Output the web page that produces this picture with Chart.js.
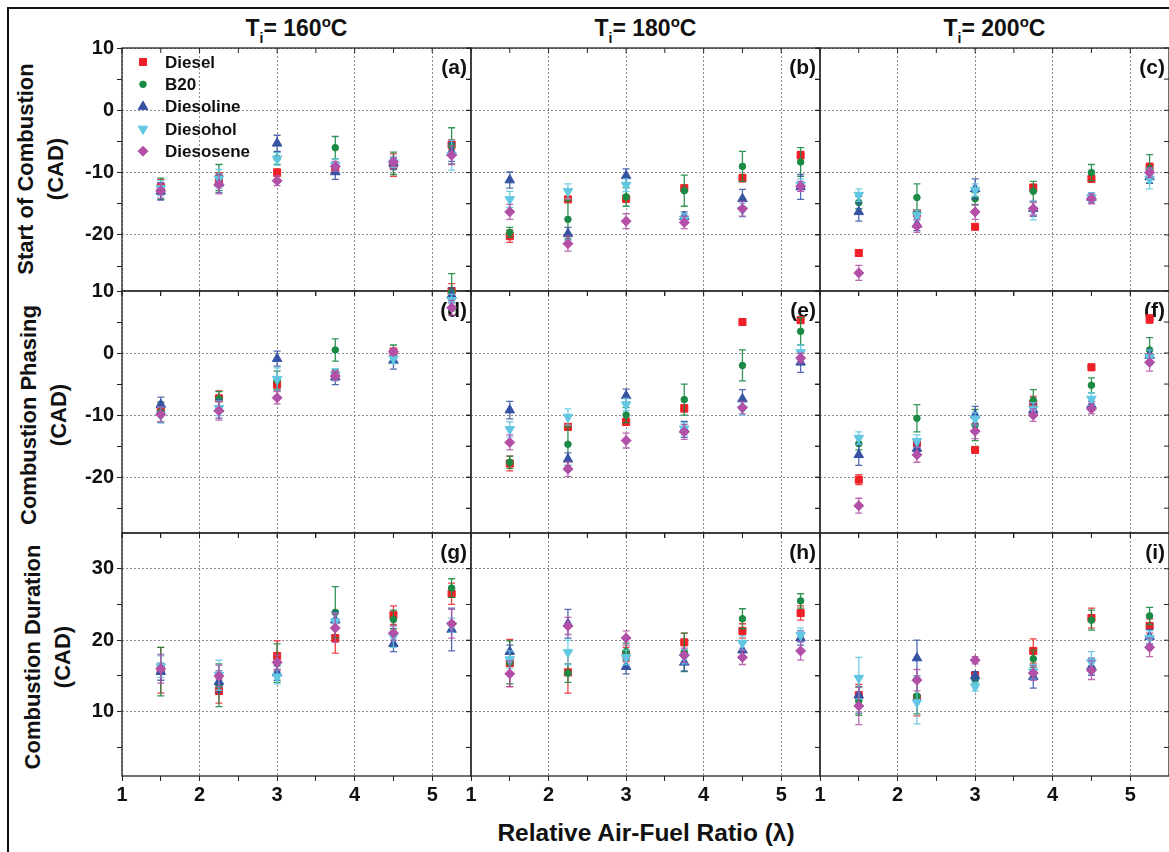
<!DOCTYPE html>
<html>
<head>
<meta charset="utf-8">
<title>Combustion characteristics vs lambda</title>
<script src="https://cdn.jsdelivr.net/npm/chart.js@4.4.1/dist/chart.umd.min.js"></script>
<style>
  body { margin: 0; background: #fff; }
  #figure { position: relative; width: 1169px; height: 852px; overflow: hidden;
            font-family: "Liberation Sans", Arial, sans-serif; font-weight: bold; color: #111; }
  #frame { position: absolute; left: 7px; top: 7px; width: 1180px; height: 880px;
           border: 2px solid #111; box-sizing: border-box; }
  canvas { position: absolute; }
  .coltitle { position: absolute; top: 15px; width: 349px; text-align: center;
              font-size: 23px; line-height: 26px; }
  .coltitle sub { font-size: 14px; line-height: 0; vertical-align: -7px; }
  .coltitle sup { font-size: 15px; line-height: 0; vertical-align: 9px; }
  .ytitle { position: absolute; width: 280px; height: 60px; line-height: 30px;
            text-align: center; font-size: 22px; transform: rotate(-90deg); }
  #xtitle { position: absolute; left: 396px; top: 819px; width: 500px; text-align: center;
            font-size: 24.5px; line-height: 28px; }
</style>
</head>
<body>
<div id="figure">
  <div id="frame"></div>
  <div class="coltitle" style="left:122px">T<sub>i</sub>= 160<sup>o</sup>C</div>
  <div class="coltitle" style="left:471px">T<sub>i</sub>= 180<sup>o</sup>C</div>
  <div class="coltitle" style="left:820px">T<sub>i</sub>= 200<sup>o</sup>C</div>
  <div class="ytitle" style="left:-99px; top:139px">Start of Combustion<br>(CAD)</div>
  <div class="ytitle" style="left:-96px; top:385px">Combustion Phasing<br>(CAD)</div>
  <div class="ytitle" style="left:-92px; top:627px">Combustion Duration<br>(CAD)</div>
  <div id="xtitle">Relative Air-Fuel Ratio (&lambda;)</div>
</div>
<script>
// relative air-fuel ratio at which every fuel was run
const lambda = [1.5, 2.25, 3, 3.75, 4.5, 5.25];
const fuels = ["Diesel", "B20", "Diesoline", "Diesohol", "Diesosene"];
const panelTags = ["(a)", "(b)", "(c)", "(d)", "(e)", "(f)", "(g)", "(h)", "(i)"];

// start of combustion (CAD), rows follow the fuels list
const soc160 = [
  [-12.3, -11.0, -10.0, -9.4, -8.8, -5.5],
  [-12.6, -10.8, -7.7, -6.0, -8.5, -5.7],
  [-13.0, -11.7, -5.3, -9.9, -8.5, -6.7],
  [-12.5, -11.0, -7.8, -8.8, -8.4, -7.2],
  [-12.9, -11.9, -11.3, -9.0, -8.3, -7.2]
];
const soc160Err = [
  [1.2, 1.0, 0.6, 0.8, 1.8, 0.8],
  [1.7, 2.1, 1.0, 1.8, 1.8, 2.9],
  [1.4, 1.5, 1.3, 1.2, 1.0, 1.5],
  [1.2, 1.5, 1.0, 1.0, 0.8, 2.4],
  [1.2, 1.5, 0.8, 0.8, 0.6, 1.5]
];
const soc180 = [
  [-20.2, -14.3, -14.2, -12.5, -10.9, -7.2],
  [-19.6, -17.5, -13.9, -12.9, -9.0, -8.3],
  [-11.2, -19.8, -10.5, -17.1, -14.2, -12.3],
  [-14.3, -13.0, -12.0, -17.4, -16.0, -12.0],
  [-16.3, -21.4, -17.8, -18.0, -15.8, -12.2]
];
const soc180Err = [
  [1.0, 0.4, 0.5, 0.4, 0.6, 0.6],
  [0.8, 3.0, 1.5, 2.5, 2.4, 2.3],
  [1.3, 1.0, 1.1, 0.8, 1.5, 2.0],
  [1.3, 1.2, 1.0, 0.8, 1.1, 1.0],
  [1.2, 1.2, 1.2, 1.0, 1.2, 0.8]
];
const soc200 = [
  [-22.9, -16.5, -18.7, -12.4, -11.0, -9.1],
  [-14.8, -14.0, -14.2, -13.0, -10.0, -9.4],
  [-16.3, -18.3, -12.6, -15.8, -14.0, -10.7],
  [-13.6, -16.8, -12.8, -16.1, -14.0, -11.0],
  [-26.1, -18.6, -16.3, -15.8, -14.2, -10.0]
];
const soc200Err = [
  [0.5, 0.4, 0.3, 0.5, 0.5, 0.6],
  [1.0, 2.2, 1.0, 1.6, 1.3, 2.3],
  [1.5, 1.0, 1.6, 1.2, 0.8, 1.0],
  [1.0, 0.8, 1.0, 1.5, 0.8, 1.6],
  [1.2, 1.0, 1.2, 1.0, 0.8, 0.8]
];

// combustion phasing (CAD)
const phase160 = [
  [-9.0, -7.3, -5.1, -3.5, 0.2, 10.0],
  [-9.5, -7.4, -4.4, 0.5, 0.1, 9.8],
  [-8.3, -9.0, -0.9, -3.9, -1.2, 9.3],
  [-10.0, -8.9, -4.2, -3.5, -0.9, 8.5],
  [-9.9, -9.3, -7.2, -3.7, 0.2, 7.3]
];
const phase160Err = [
  [1.0, 1.2, 1.0, 0.6, 0.6, 1.2],
  [1.6, 1.2, 1.5, 1.8, 1.2, 3.0],
  [1.2, 1.5, 1.2, 1.2, 1.4, 1.2],
  [1.3, 1.2, 1.8, 1.0, 0.8, 1.0],
  [1.2, 1.5, 1.0, 0.6, 0.5, 1.2]
];
const phase180 = [
  [-17.8, -11.9, -11.1, -8.9, 5.0, 5.3],
  [-17.6, -14.7, -10.0, -7.5, -2.0, 3.5],
  [-9.2, -17.1, -6.9, -12.3, -7.4, -1.5],
  [-12.3, -10.3, -8.3, -12.2, -9.0, 0.1],
  [-14.4, -18.7, -14.1, -12.7, -8.8, -0.8]
];
const phase180Err = [
  [1.2, 0.5, 0.5, 0.6, 0.3, 0.5],
  [1.0, 2.8, 1.2, 2.5, 2.5, 2.2],
  [1.4, 1.0, 1.1, 1.3, 1.5, 1.6],
  [1.2, 1.3, 1.0, 1.0, 1.0, 1.2],
  [1.2, 1.2, 1.2, 1.2, 1.0, 0.8]
];
const phase200 = [
  [-20.4, -14.5, -15.6, -8.2, -2.3, 5.5],
  [-14.6, -10.5, -11.6, -7.6, -5.2, 0.5],
  [-16.4, -15.4, -10.0, -9.2, -8.4, -0.4],
  [-13.7, -14.2, -10.6, -9.0, -7.4, -0.7],
  [-24.6, -16.4, -12.6, -10.0, -9.0, -1.5]
];
const phase200Err = [
  [0.8, 0.5, 0.3, 1.2, 0.5, 0.7],
  [1.0, 2.2, 2.5, 1.7, 1.2, 2.0],
  [1.7, 0.8, 1.4, 1.0, 0.6, 1.0],
  [1.0, 1.0, 1.0, 1.0, 1.0, 1.2],
  [1.2, 1.2, 1.2, 1.0, 0.8, 1.4]
];

// combustion duration (CAD)
const dur160 = [
  [15.8, 12.9, 17.8, 20.3, 23.5, 26.5],
  [15.6, 13.7, 16.8, 23.9, 22.9, 27.3],
  [15.6, 14.2, 15.4, 22.8, 19.5, 21.5],
  [16.3, 15.1, 14.9, 22.6, 20.5, 22.1],
  [16.0, 15.0, 16.9, 21.7, 21.0, 22.3]
];
const dur160Err = [
  [3.2, 1.7, 2.1, 2.1, 1.3, 1.5],
  [3.4, 3.0, 2.7, 3.6, 1.3, 1.3],
  [1.2, 1.5, 1.0, 1.2, 1.1, 3.0],
  [1.5, 2.1, 1.0, 1.2, 1.5, 1.0],
  [2.0, 1.5, 1.0, 2.0, 1.0, 2.0]
];
const dur180 = [
  [16.8, 15.5, 18.0, 19.7, 21.3, 23.8],
  [16.9, 15.4, 18.4, 18.3, 23.0, 25.5],
  [18.4, 22.3, 16.3, 16.9, 18.6, 20.3],
  [17.3, 18.3, 17.6, 17.7, 19.6, 20.7],
  [15.3, 22.0, 20.3, 17.9, 17.6, 18.5]
];
const dur180Err = [
  [3.3, 2.9, 1.0, 1.3, 1.0, 1.0],
  [3.0, 1.3, 1.2, 2.7, 1.4, 1.0],
  [0.9, 2.0, 1.0, 1.2, 1.0, 1.0],
  [1.2, 1.7, 1.0, 1.0, 1.0, 1.0],
  [1.8, 1.2, 1.0, 1.0, 1.0, 1.3]
];
const dur200 = [
  [12.3, 11.9, 15.1, 18.5, 23.1, 22.0],
  [11.5, 12.2, 14.5, 17.4, 22.8, 23.4],
  [12.3, 17.5, 15.0, 14.9, 16.3, 20.5],
  [14.7, 11.3, 13.5, 15.6, 16.9, 20.3],
  [10.8, 14.4, 17.2, 15.4, 15.8, 19.0]
];
const dur200Err = [
  [1.5, 2.5, 0.5, 1.7, 1.4, 1.0],
  [2.0, 2.5, 0.6, 1.2, 1.4, 1.2],
  [2.5, 2.5, 0.6, 1.6, 1.2, 1.0],
  [2.9, 3.0, 0.6, 1.0, 1.5, 1.0],
  [2.6, 1.5, 0.5, 1.0, 1.3, 1.3]
];

// axis ticks (minor ticks sit between the labelled ones)
const xTicks = [1, 1.5, 2, 2.5, 3, 3.5, 4, 4.5, 5];
const cadTicks = [-25, -20, -15, -10, -5, 0, 5, 10];
const durTicks = [5, 10, 15, 20, 25, 30];

const rows = [
  { values: [soc160, soc180, soc200], errs: [soc160Err, soc180Err, soc200Err], min: -29, max: 10, ticks: cadTicks },
  { values: [phase160, phase180, phase200], errs: [phase160Err, phase180Err, phase200Err], min: -29, max: 10, ticks: cadTicks },
  { values: [dur160, dur180, dur200], errs: [dur160Err, dur180Err, dur200Err], min: 1, max: 35, ticks: durTicks }
];

const colors = ["#ee2027", "#1b8a44", "#3552a3", "#62c7e2", "#b24fa6"];
const errColors = ["rgba(238,32,39,0.85)", "rgba(27,138,68,0.9)", "rgba(53,82,163,0.85)",
                   "rgba(98,199,226,0.9)", "rgba(178,79,166,0.85)"];
const markers = [
  { style: "rect", radius: 5, rotation: 0 },
  { style: "circle", radius: 3.3, rotation: 0 },
  { style: "triangle", radius: 5.5, rotation: 0 },
  { style: "triangle", radius: 5.5, rotation: 180 },
  { style: "rectRot", radius: 5, rotation: 0 }
];

// panel geometry
const colLeft = [122, 471, 820];
const rowTop = [48, 291, 533];
const rowH = [243, 242, 243];
const PANEL_W = 349;
const PAD_L = 60, PAD_R = 25, PAD_T = 30, PAD_B = 45;
const Y_AXIS_W = 40, X_AXIS_H = 30;
const FONT = "'Liberation Sans', Arial, sans-serif";

// vertical error bars with caps, drawn just before each dataset's points
const errorBars = {
  id: "errorBars",
  beforeDatasetDraw(chart, args) {
    const ds = chart.data.datasets[args.index];
    if (!ds.errors) return;
    const y = chart.scales.y;
    const ctx = chart.ctx;
    ctx.save();
    ctx.strokeStyle = ds.errorColor;
    ctx.lineWidth = 1.3;
    args.meta.data.forEach((pt, j) => {
      const v = ds.data[j].y, e = ds.errors[j];
      const top = y.getPixelForValue(v + e);
      const bot = y.getPixelForValue(v - e);
      ctx.beginPath();
      ctx.moveTo(pt.x, top); ctx.lineTo(pt.x, bot);
      ctx.moveTo(pt.x - 3.5, top); ctx.lineTo(pt.x + 3.5, top);
      ctx.moveTo(pt.x - 3.5, bot); ctx.lineTo(pt.x + 3.5, bot);
      ctx.stroke();
    });
    ctx.restore();
  }
};

// box around the plot, inward ticks on the top/right sides, and the panel tag
const panelFrame = {
  id: "panelFrame",
  beforeDatasetsDraw(chart, args, opts) {
    const { ctx, chartArea: a, scales } = chart;
    ctx.save();
    ctx.strokeStyle = "#222";
    ctx.lineWidth = 1.3;
    ctx.strokeRect(a.left, a.top, a.right - a.left, a.bottom - a.top);
    ctx.lineWidth = 1;
    ctx.beginPath();
    scales.y.ticks.forEach(t => {
      const py = scales.y.getPixelForValue(t.value);
      ctx.moveTo(a.right - 5, py); ctx.lineTo(a.right, py);
    });
    scales.x.ticks.forEach(t => {
      const px = scales.x.getPixelForValue(t.value);
      ctx.moveTo(px, a.top); ctx.lineTo(px, a.top + 5);
    });
    ctx.stroke();
    ctx.fillStyle = "#111";
    ctx.font = "bold 21px " + FONT;
    ctx.textAlign = "right";
    ctx.textBaseline = "middle";
    ctx.fillText(opts.tag, a.right - 4, a.top + 20);
    ctx.restore();
  }
};

// fuel key in the first panel
const fuelKey = {
  id: "fuelKey",
  afterDatasetsDraw(chart, args, opts) {
    if (!opts.show) return;
    const { ctx, chartArea: a } = chart;
    ctx.save();
    ctx.font = "bold 17px " + FONT;
    ctx.textAlign = "left";
    ctx.textBaseline = "middle";
    chart.data.datasets.forEach((ds, k) => {
      const yy = a.top + 14 + k * 22.3;
      ctx.fillStyle = ds.backgroundColor;
      ctx.strokeStyle = ds.borderColor;
      ctx.lineWidth = 1;
      Chart.helpers.drawPoint(ctx, {
        pointStyle: ds.pointStyle, rotation: ds.rotation,
        radius: ds.pointRadius, borderWidth: 1
      }, a.left + 21, yy);
      ctx.fillStyle = "#111";
      ctx.fillText(ds.label, a.left + 43, yy + 1);
    });
    ctx.restore();
  }
};

function makePanel(r, c) {
  const row = rows[r];
  const w = PANEL_W + PAD_L + PAD_R;
  const h = rowH[r] + PAD_T + PAD_B;
  const canvas = document.createElement("canvas");
  canvas.width = w;
  canvas.height = h;
  canvas.style.left = (colLeft[c] - PAD_L) + "px";
  canvas.style.top = (rowTop[r] - PAD_T) + "px";
  canvas.style.width = w + "px";
  canvas.style.height = h + "px";
  document.getElementById("figure").appendChild(canvas);

  const datasets = fuels.map((name, k) => ({
    label: name,
    data: lambda.map((x, j) => ({ x: x, y: row.values[c][k][j] })),
    errors: row.errs[c][k],
    errorColor: errColors[k],
    pointStyle: markers[k].style,
    rotation: markers[k].rotation,
    pointRadius: markers[k].radius,
    pointHoverRadius: markers[k].radius,
    backgroundColor: colors[k],
    borderColor: colors[k],
    borderWidth: 1,
    showLine: false,
    clip: false,
    order: fuels.length - k
  }));

  const tickFont = { family: FONT, size: 20, weight: "bold" };

  new Chart(canvas.getContext("2d"), {
    type: "scatter",
    data: { datasets: datasets },
    plugins: [errorBars, panelFrame, fuelKey],
    options: {
      responsive: false,
      animation: false,
      events: [],
      layout: { padding: { left: PAD_L - Y_AXIS_W, right: PAD_R, top: PAD_T, bottom: PAD_B - X_AXIS_H } },
      plugins: {
        legend: { display: false },
        tooltip: { enabled: false },
        panelFrame: { tag: panelTags[r * 3 + c] },
        fuelKey: { show: r === 0 && c === 0 }
      },
      scales: {
        x: {
          type: "linear",
          min: 1,
          max: 5.5,
          afterBuildTicks: s => { s.ticks = xTicks.map(v => ({ value: v })); },
          afterFit: s => { s.height = X_AXIS_H; },
          ticks: {
            display: r === 2,
            padding: 2,
            maxRotation: 0,
            autoSkip: false,
            color: "#111",
            font: tickFont,
            callback: v => (Number.isInteger(v) ? String(v) : "")
          },
          grid: {
            color: g => (g.tick && Number.isInteger(g.tick.value) ? "#8c8c8c" : "rgba(0,0,0,0)"),
            tickColor: "#222",
            tickLength: 5,
            lineWidth: 1
          },
          border: { display: false, dash: [2, 2] }
        },
        y: {
          type: "linear",
          min: row.min,
          max: row.max,
          afterBuildTicks: s => { s.ticks = row.ticks.map(v => ({ value: v })); },
          afterFit: s => { s.width = Y_AXIS_W; },
          ticks: {
            display: c === 0,
            padding: 3,
            color: "#111",
            font: tickFont,
            callback: v => (v % 10 === 0 ? String(v) : "")
          },
          grid: {
            color: g => (g.tick && g.tick.value % 10 === 0 ? "#8c8c8c" : "rgba(0,0,0,0)"),
            tickColor: "#222",
            tickLength: 5,
            lineWidth: 1
          },
          border: { display: false, dash: [2, 2] }
        }
      }
    }
  });
}

for (let r = 0; r < 3; r++) {
  for (let c = 0; c < 3; c++) makePanel(r, c);
}
</script>
</body>
</html>
